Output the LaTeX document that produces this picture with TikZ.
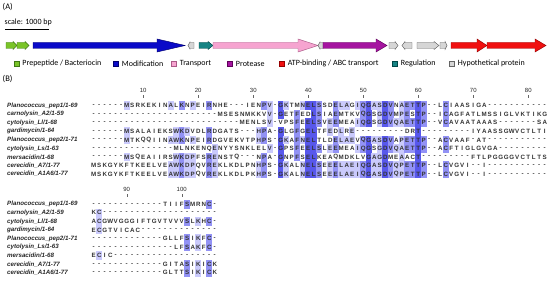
\documentclass[tikz,border=0pt]{standalone}
\usepackage{fontspec}
\setmainfont{Carlito}
\newfontfamily\seqfont{Liberation Sans}
\usepackage{xstring}
\usetikzlibrary{positioning}

\definecolor{prefill}{RGB}{122,196,40}
\definecolor{preline}{RGB}{62,120,20}
\definecolor{modfill}{RGB}{10,10,200}
\definecolor{modline}{RGB}{0,0,110}
\definecolor{trafill}{RGB}{246,164,208}
\definecolor{traline}{RGB}{170,90,135}
\definecolor{profill}{RGB}{165,20,160}
\definecolor{proline}{RGB}{95,0,90}
\definecolor{abcfill}{RGB}{240,16,16}
\definecolor{abcline}{RGB}{150,0,0}
\definecolor{regfill}{RGB}{22,132,132}
\definecolor{regline}{RGB}{0,70,70}
\definecolor{hypfill}{RGB}{214,214,214}
\definecolor{hypline}{RGB}{100,100,100}
\definecolor{pidlow}{RGB}{202,202,252}
\definecolor{pidmid}{RGB}{146,146,245}
\definecolor{pidtop}{RGB}{88,88,236}

\tikzset{
  genebody/.style={line width=0.45pt,line join=miter},
  genepre/.style={genebody,fill=prefill,draw=preline},
  genemod/.style={genebody,fill=modfill,draw=modline},
  genetra/.style={genebody,fill=trafill,draw=traline},
  genepro/.style={genebody,fill=profill,draw=proline},
  geneabc/.style={genebody,fill=abcfill,draw=abcline},
  genereg/.style={genebody,fill=regfill,draw=regline},
  genehyp/.style={genebody,fill=hypfill,draw=hypline},
  legbox/.style={minimum size=4.6pt,inner sep=0pt,line width=0.5pt},
  legtext/.style={font=\fontsize{8}{9}\selectfont,inner sep=0pt},
  panel/.style={font=\fontsize{8.5}{10}\selectfont,inner sep=0pt,anchor=west},
  res/.style={font=\seqfont\bfseries\fontsize{6.2}{7}\selectfont,inner sep=0pt,text=black!80},
  seqname/.style={font=\seqfont\bfseries\itshape\fontsize{6.2}{7}\selectfont,inner sep=0pt,anchor=west,text=black!85},
  ruler/.style={font=\seqfont\fontsize{6}{7}\selectfont,inner sep=0pt,text=black!85},
  rulertick/.style={line width=0.4pt,black!60}
}

\newcommand\gene[5]{%
  \filldraw[#1] (#2,42.5) -- (#3,42.5) -- (#3,{45.5-#5}) -- (#4,45.5)
    -- (#3,{45.5+#5}) -- (#3,48.5) -- (#2,48.5) -- cycle;}

\newcommand\alnrow[5]{%
  \foreach \cl in {1,...,#4}{%
    \StrChar{#2}{\cl}[\rs]%
    \StrChar{#3}{\cl}[\lv]%
    \ifnum\lv>0
      \ifcase\lv\or\def\pc{pidlow}\or\def\pc{pidmid}\or\def\pc{pidtop}\fi
      \fill[fill=\pc] ({91+(\cl-1)*5.5-0.05},{#1-4.3}) rectangle ({91+\cl*5.5+0.05},{#1+4.3});
    \fi
    \node[res] (#5-\cl) at ({91+(\cl-0.5)*5.5},#1) {\rs};
  }}

\begin{document}
\begin{tikzpicture}[x=1pt,y=-1pt]
\useasboundingbox (0,0) rectangle (550,286);
\fill[white] (0,0) rectangle (550,286);

\node[panel] (lblA) at (2.5,6.5) {(A)};
\node[legtext,anchor=west] (scl) at (4.5,22.5) {scale: 1000 bp};
\coordinate (sb1) at (5,29.5);
\coordinate (sb2) at (49,29.5);
\draw[line width=0.6pt] (sb1) -- (sb2);

\gene{genepre}{6}{13}{17}{4}
\gene{genepre}{17}{25}{29}{4}
\gene{genemod}{33}{157}{185}{6.5}
\gene{genehyp}{194}{190}{188}{3.5}
\gene{genereg}{199}{208}{213}{4}
\gene{genetra}{213}{298}{318}{6.5}
\gene{genehyp}{323}{320}{318}{3.5}
\gene{genepro}{323}{376}{387}{6.5}
\gene{genehyp}{389}{395}{398}{4}
\gene{genehyp}{412}{405}{402}{4}
\gene{genehyp}{417}{434}{439}{4}
\gene{genehyp}{440}{445}{447}{4}
\gene{geneabc}{451}{477}{487}{6.5}
\gene{geneabc}{487}{535}{546}{6.5}

\node[legbox,fill=prefill,draw=preline] (lg1) at (16.5,63.5) {};
\node[legtext,right=3.2pt of lg1] (lt1) {Prepeptide / Bacteriocin};
\node[legbox,fill=modfill,draw=modline] (lg2) at (116,63.5) {};
\node[legtext,right=3.2pt of lg2] (lt2) {Modification};
\node[legbox,fill=trafill,draw=traline] (lg3) at (174,63.5) {};
\node[legtext,right=3.2pt of lg3] (lt3) {Transport};
\node[legbox,fill=profill,draw=proline] (lg4) at (230,63.5) {};
\node[legtext,right=3.2pt of lg4] (lt4) {Protease};
\node[legbox,fill=abcfill,draw=abcline] (lg5) at (282,63.5) {};
\node[legtext,right=3.2pt of lg5] (lt5) {ATP-binding / ABC transport};
\node[legbox,fill=regfill,draw=regline] (lg6) at (395,63.5) {};
\node[legtext,right=3.2pt of lg6] (lt6) {Regulation};
\node[legbox,fill=hypfill,draw=hypline] (lg7) at (452,63.5) {};
\node[legtext,right=3.2pt of lg7] (lt7) {Hypothetical protein};

\node[panel] (lblB) at (2.5,79) {(B)};

\foreach \n in {10,20,...,80}{
  \node[ruler] (ta\n) at ({91+(\n-0.5)*5.5},90.5) {\n};
  \draw[rulertick] ({91+(\n-0.5)*5.5},95.3) -- ++(0,2.6);
}
\foreach \n in {90,100}{
  \node[ruler] (tb\n) at ({91+(\n-83.5)*5.5},189.5) {\n};
  \draw[rulertick] ({91+(\n-83.5)*5.5},194.3) -- ++(0,2.6);
}

\foreach \nm [count=\r] in {Planococcus\_pep1/1-69, carnolysin\_A2/1-59,
  cytolysin\_Ll/1-68, gardimycin/1-64, Planococcus\_pep2/1-71,
  cytolysin\_Ls/1-63, mersacidin/1-68, cerecidin\_A7/1-77, cerecidin\_A1A6/1-77}{
  \pgfmathsetmacro\yy{105.7+(\r-1)*8.55}
  \node[seqname] (na\r) at (7,\yy) {\nm};
  \pgfmathsetmacro\yy{204.3+(\r-1)*8.55}
  \node[seqname] (nb\r) at (7,\yy) {\nm};
}

\foreach \sq/\sh [count=\r] in {
  ------MSRKEKINALKNPEIRNHE---IENPV-GKTMNELSSDELAGIQGASDVNAETTP--LCIAASIGA-----------/00000010000000102010020000000002103100133200211012311320122320002000000000000000000000,
  -----------------------MSESNMKKVV-GETFEDLSIAEMTKVQGSGDVMPESTP--ICAGFATLMSSIGLVKTIKG/00000000000000000000000000000000103002003200200002301320120320002000000000000000000000,
  ---------------------------MENLSV-VPSFEELSVEEMEAIQGSGDVQAETTP--VCAVAATAAAS-------SA/00000000000000000000000000000000100002033201200012301321122320002000000000000000000000,
  ------MSALAIEKSWKDVDLRDGATS---HPA-GLGFGELTFEDLRE---------DRT---------IYAASSGWVCTLTI/00000010000000012100020000000012003002033001010100000000000300000000000000000000000000,
  ------MTKQQIINAWKNPEIRDGVEKVTPHPS-GKAFNELTLDELAEVQGASDVAPETTP--ACVAAF-AT-----------/00000010000000112010020000000012003102133000211102311320122320002000000000000000000000,
  ---------------MLNKENQENYYSNKLELV-GPSFEELSLEEMEAIQGSGDVQAETTP--ACFTIGLGVGA---------/00000000000000000000001000000000103002033201200012301321122320002000000000000000000000,
  ------MSQEAIIRSWKDPFSRENSTQ---NPA-GNPFSELKEAQMDKLVGAGDMEAACT---------FTLPGGGGVCTLTS/00000010000000012110021000000002003002033000000000311300100300000000000000000000000000,
  MSKGYKFTKEELVEAWKDPQVREKLKDLPNHPS-GKALNELSEEELAEIQGASDVQPETTP--LCVGVI--I-----------/00000000000000112110021000000012003100133201211112311321122320002000000000000000000000,
  MSKGYKFTKEELVEAWKDPQVREKLKDLPKHPS-GKALNELSEEELAEIQGASDVQPETTP--LCVGVI--I-----------/00000000000000112110021000000012003100133201211112311321122320002000000000000000000000}{
  \pgfmathsetmacro\yy{105.7+(\r-1)*8.55}
  \alnrow{\yy}{\sq}{\sh}{83}{a\r}
}

\foreach \sq/\sh [count=\r] in {
  -------------TIIFSMRNC-/00000000000000000200020,
  KC---------------------/01000000000000000000000,
  ACGWVGGGIFTGVTVVVSLKHC-/01000000000000000201020,
  ECGTVICAC--------------/01000000000000000000000,
  -------------GLLFSIKFC-/00000000000000000201020,
  ---------------LFSAKFC-/00000000000000000201020,
  ECIC-------------------/01000000000000000000000,
  -------------GITASIKICK/00000000000000000201020,
  -------------GLTTSIKICK/00000000000000000201020}{
  \pgfmathsetmacro\yy{204.3+(\r-1)*8.55}
  \alnrow{\yy}{\sq}{\sh}{23}{b\r}
}
\end{tikzpicture}
\end{document}
